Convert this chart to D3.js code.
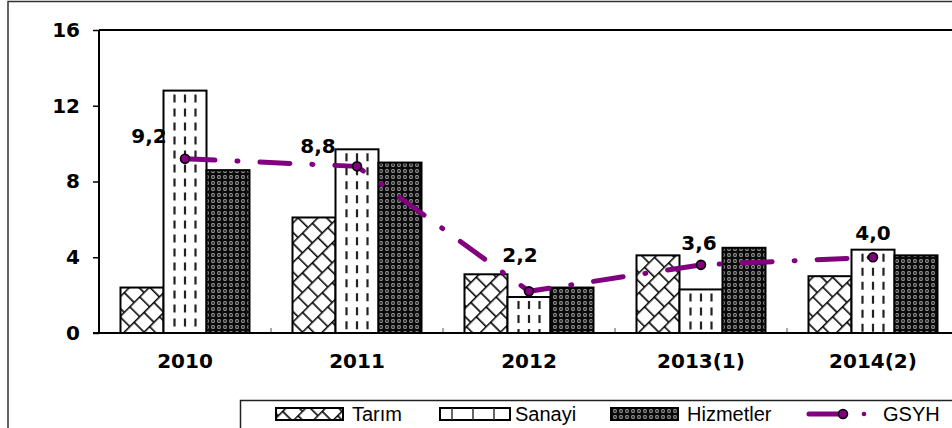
<!DOCTYPE html>
<html><head><meta charset="utf-8">
<script src="https://cdn.jsdelivr.net/npm/d3@7"></script>
<style>
html,body{margin:0;padding:0;background:#fff;overflow:hidden;}
svg{display:block;}
</style></head>
<body>
<svg id="chart" width="952" height="428"></svg>
<script>
// ---- data ----
const categories = ["2010", "2011", "2012", "2013(1)", "2014(2)"];
const seriesNames = ["Tarım", "Sanayi", "Hizmetler"];
const tarim = [2.4, 6.1, 3.1, 4.1, 3.0];
const sanayi = [12.8, 9.7, 1.9, 2.3, 4.4];
const hizmetler = [8.6, 9.0, 2.4, 4.5, 4.1];
const gsyh = [9.2, 8.8, 2.2, 3.6, 4.0];
const gsyhLabels = ["9,2", "8,8", "2,2", "3,6", "4,0"];
const yTicks = [0, 4, 8, 12, 16];
const lineName = "GSYH";

// ---- layout / style ----
const svg = d3.select("#chart");
const plot = {left: 99, top: 30, right: 959, bottom: 333};
const purple = "#800080";
const boldFont = "'DejaVu Sans', Verdana, sans-serif";
const legendFont = "'Liberation Sans', Arial, sans-serif";
const labelOffsets = [[-36, -16], [-39, -13], [-9, -29], [-2, -15], [0, -17]];

const x0 = d3.scaleBand().domain(categories).range([plot.left, plot.right]).paddingInner(0).paddingOuter(0);
const x1 = d3.scaleBand().domain(seriesNames).range([0, x0.bandwidth()]).paddingInner(0).paddingOuter(0.5);
const y = d3.scaleLinear().domain([0, 16]).range([plot.bottom, plot.top]);

const defs = svg.append("defs");
// Tarım: diagonal brick
const bs = 14;
const pT = defs.append("pattern").attr("id", "pTarim").attr("patternUnits", "userSpaceOnUse")
  .attr("width", bs).attr("height", 2 * bs).attr("patternTransform", "rotate(-45)");
pT.append("rect").attr("width", bs).attr("height", 2 * bs).attr("fill", "#fff");
pT.append("path").attr("d", `M0,0.75H${bs}M0,${bs + 0.75}H${bs}M0.75,0V${bs}M${bs / 2},${bs}V${2 * bs}`)
  .attr("stroke", "#000").attr("stroke-width", 1.6).attr("fill", "none");
// Hizmetler: dark dotted diamond
const pH = defs.append("pattern").attr("id", "pHizmet").attr("patternUnits", "userSpaceOnUse")
  .attr("width", 6).attr("height", 6);
pH.append("rect").attr("width", 6).attr("height", 6).attr("fill", "#0a0a0a");
pH.append("circle").attr("cx", 3).attr("cy", 3).attr("r", 1.9).attr("fill", "#d8d8d8");
pH.append("path").attr("d", "M3,1.5V4.5M1.5,3H4.5").attr("stroke", "#0a0a0a").attr("stroke-width", 1);

const fills = {"Tarım": "url(#pTarim)", "Sanayi": "#fff", "Hizmetler": "url(#pHizmet)"};
const values = {"Tarım": tarim, "Sanayi": sanayi, "Hizmetler": hizmetler};

// outer frame
svg.append("path").attr("d", "M8,428V1.5H952").attr("fill", "none").attr("stroke", "#333").attr("stroke-width", 1.5);

// bars
const g = svg.append("g");
categories.forEach((c, i) => {
  seriesNames.forEach(s => {
    const bx = x0(c) + x1(s), bw = x1.bandwidth(), v = values[s][i];
    g.append("rect").attr("x", bx).attr("y", y(v)).attr("width", bw).attr("height", y(0) - y(v))
      .attr("fill", fills[s]).attr("stroke", "#000").attr("stroke-width", 2);
    if (s === "Sanayi") {
      [-10.5, 0, 10.5].forEach(o => {
        g.append("line").attr("x1", bx + bw / 2 + o).attr("x2", bx + bw / 2 + o)
          .attr("y1", y(v) + 4).attr("y2", y(0))
          .attr("stroke", "#222").attr("stroke-width", 2.2).attr("stroke-dasharray", "8,6");
      });
    }
  });
});

// axes
const yAxis = d3.axisLeft(y).tickValues(yTicks).tickSize(6).tickFormat(d3.format("d"));
const ya = svg.append("g").attr("transform", `translate(${plot.left},0)`).call(yAxis);
ya.select(".domain").remove();
ya.selectAll(".tick line").attr("stroke", "#000").attr("stroke-width", 1.5);
ya.selectAll(".tick text").attr("x", -19).attr("font-family", boldFont).attr("font-weight", "bold")
  .attr("font-size", 20).attr("fill", "#000");

const xAxis = d3.axisBottom(x0).tickSize(0).tickPadding(21);
const xa = svg.append("g").attr("transform", `translate(0,${plot.bottom})`).call(xAxis);
xa.select(".domain").remove();
xa.selectAll(".tick text").attr("font-family", boldFont).attr("font-weight", "bold").attr("font-size", 20).attr("fill", "#000");
// category divider ticks (inward)
categories.slice(1).forEach(c => {
  svg.append("line").attr("x1", x0(c)).attr("x2", x0(c)).attr("y1", plot.bottom).attr("y2", plot.bottom - 5)
    .attr("stroke", "#555").attr("stroke-width", 1);
});

// plot border
svg.append("line").attr("x1", plot.left).attr("x2", 952).attr("y1", plot.top).attr("y2", plot.top).attr("stroke", "#000").attr("stroke-width", 2.2);
svg.append("line").attr("x1", plot.left).attr("x2", plot.left).attr("y1", plot.top).attr("y2", plot.bottom).attr("stroke", "#000").attr("stroke-width", 2);
svg.append("line").attr("x1", plot.left - 6).attr("x2", 952).attr("y1", plot.bottom).attr("y2", plot.bottom).attr("stroke", "#000").attr("stroke-width", 2);

// GSYH line
const cx = c => x0(c) + x0.bandwidth() / 2;
const line = d3.line().x((d, i) => cx(categories[i])).y(d => y(d));
svg.append("path").datum(gsyh).attr("d", line).attr("fill", "none").attr("stroke", purple)
  .attr("stroke-width", 5).attr("stroke-linecap", "round").attr("stroke-dasharray", "30,22,1,22");
svg.selectAll(".pt").data(gsyh).enter().append("circle")
  .attr("cx", (d, i) => cx(categories[i])).attr("cy", d => y(d)).attr("r", 4.5)
  .attr("fill", purple).attr("stroke", "#000").attr("stroke-width", 1.6);
svg.selectAll(".lbl").data(gsyh).enter().append("text")
  .attr("x", (d, i) => cx(categories[i]) + labelOffsets[i][0])
  .attr("y", (d, i) => y(d) + labelOffsets[i][1])
  .attr("text-anchor", "middle").attr("font-family", boldFont).attr("font-weight", "bold")
  .attr("font-size", 20).attr("fill", "#000").text((d, i) => gsyhLabels[i]);

// legend
const lg = svg.append("g");
lg.append("path").attr("d", "M240.5,428V400.5H952").attr("fill", "none").attr("stroke", "#222").attr("stroke-width", 1.5);
const legendItems = [
  {name: "Tarım", sx: 276, sw: 67, tx: 352},
  {name: "Sanayi", sx: 440, sw: 70, tx: 515},
  {name: "Hizmetler", sx: 611, sw: 67, tx: 687}
];
legendItems.forEach(it => {
  lg.append("rect").attr("x", it.sx).attr("y", 408).attr("width", it.sw).attr("height", 12)
    .attr("fill", fills[it.name]).attr("stroke", "#000").attr("stroke-width", 2);
  if (it.name === "Sanayi") {
    [it.sx + 12, it.sx + 33, it.sx + 54].forEach(lx => {
      lg.append("line").attr("x1", lx).attr("x2", lx).attr("y1", 408).attr("y2", 420).attr("stroke", "#333").attr("stroke-width", 1.5);
    });
  }
  lg.append("text").attr("x", it.tx).attr("y", 421).attr("font-family", legendFont).attr("font-size", 20)
    .attr("fill", "#000").text(it.name);
});
lg.append("line").attr("x1", 809).attr("x2", 842).attr("y1", 414).attr("y2", 414).attr("stroke", purple).attr("stroke-width", 5).attr("stroke-linecap", "round");
lg.append("circle").attr("cx", 843).attr("cy", 414).attr("r", 4.5).attr("fill", purple).attr("stroke", "#000").attr("stroke-width", 1.6);
lg.append("circle").attr("cx", 864).attr("cy", 414).attr("r", 2.3).attr("fill", purple);
lg.append("text").attr("x", 883).attr("y", 421).attr("font-family", legendFont).attr("font-size", 20)
  .attr("fill", "#000").text(lineName);
</script>
</body></html>
